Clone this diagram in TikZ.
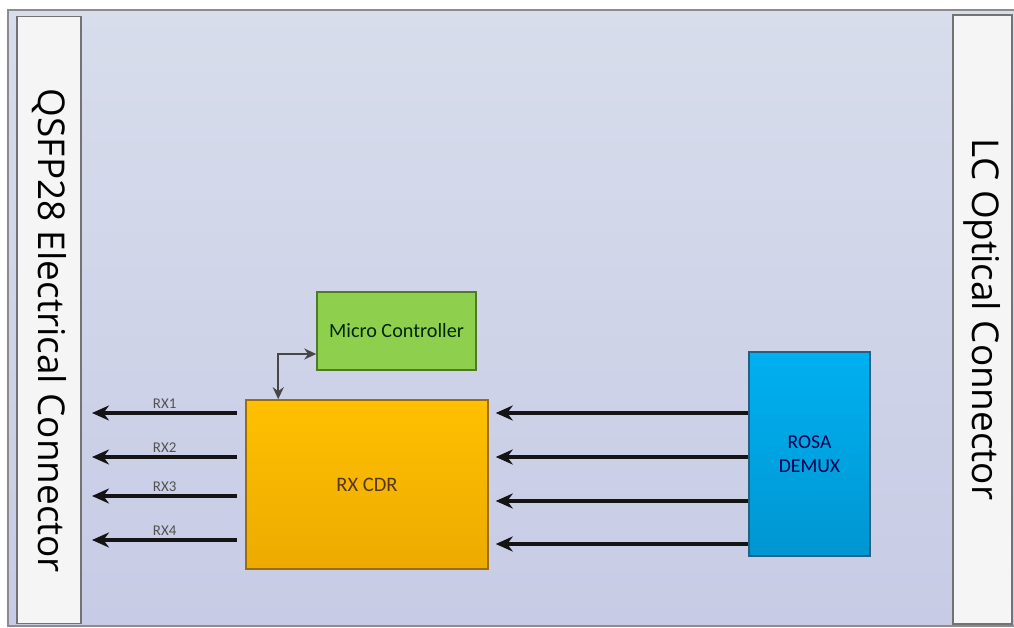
\documentclass[tikz,border=0pt]{standalone}
\usepackage{fontspec}
\setmainfont{Carlito}
\newfontfamily\connfont{Open Sans}
\usetikzlibrary{arrows.meta,calc}
\definecolor{bgtop}{HTML}{D8DDEC}
\definecolor{bgbot}{HTML}{C7CBE5}
\definecolor{mcfill}{HTML}{8FCF4E}
\definecolor{mcline}{HTML}{4F7A28}
\definecolor{cdrtop}{HTML}{FFC000}
\definecolor{cdrbot}{HTML}{EDAA00}
\definecolor{cdrline}{HTML}{9A6E10}
\definecolor{rosatop}{HTML}{00B0F0}
\definecolor{rosabot}{HTML}{0096D2}
\definecolor{rosaline}{HTML}{245F84}
\tikzset{
	conn/.style={draw=black!55, fill=white!96!black, line width=0.8pt, inner sep=0pt},
	conntext/.style={rotate=-90, font=\connfont\fontsize{21}{24}\selectfont, text=black},
	blk/.style={line width=0.9pt, inner sep=0pt, align=center},
	sig/.style={line width=2pt, black!92, -{Stealth[length=3.4mm, width=3mm]}},
	link/.style={line width=1.3pt, black!72, {Stealth[length=2.4mm, width=2.2mm]}-{Stealth[length=2.4mm, width=2.2mm]}},
	rxlabel/.style={font=\fontsize{8.5}{9}\selectfont, text=black!68, inner sep=1.5pt}
}
\begin{document}
\begin{tikzpicture}[x=0.02cm, y=-0.02cm]
		\useasboundingbox (0, 0) rectangle (1014, 628);
		\fill[white] (0, 0) rectangle (1014, 628);
		\shade[top color=bgtop, bottom color=bgbot, draw=black!45, line width=0.8pt] (8, 10) rectangle (1016, 626);
		\node[conn, minimum width=1.28cm, minimum height=12.14cm] (qsfp) at (49, 320) {};
		\node[conntext] at ([yshift=-0.22cm]qsfp.center) {QSFP28 Electrical Connector};
		\node[conn, minimum width=1.18cm, minimum height=12.18cm] (lc) at (982.5, 319.5) {};
		\node[conntext] at (lc.center) {LC Optical Connector};
		\node[blk, draw=mcline, fill=mcfill, minimum width=3.18cm, minimum height=1.56cm, text=green!15!black, font=\fontsize{11.5}{14}\selectfont] (mc) at (396.5, 331) {Micro Controller};
		\node[blk, draw=cdrline, top color=cdrtop, bottom color=cdrbot, minimum width=4.84cm, minimum height=3.38cm, text=brown!45!black, font=\fontsize{11.7}{14}\selectfont] (cdr) at (367, 484.5) {RX CDR};
		\node[blk, draw=rosaline, top color=rosatop, bottom color=rosabot, minimum width=2.42cm, minimum height=4.08cm, text=blue!30!black, font=\fontsize{11.2}{14}\selectfont] (rosa) at (809.5, 454) {ROSA\\DEMUX};
		\draw[link] ([yshift=-0.46cm]mc.west) -| ([xshift=0.66cm]cdr.north west);
		\foreach \y/\n in {413/1, 457/2, 496/3, 540/4} {
			\coordinate (rx\n) at (92, \y);
			\draw[sig] ([xshift=-0.16cm]cdr.west |- rx\n) -- (rx\n) node[midway, above, rxlabel] {RX\n};
		}
		\foreach \y in {413, 457, 501, 544} {
			\draw[sig] (rosa.west |- 0, \y) -- ([xshift=0.14cm]cdr.east |- 0, \y);
		}
		\end{tikzpicture}
\end{document}
